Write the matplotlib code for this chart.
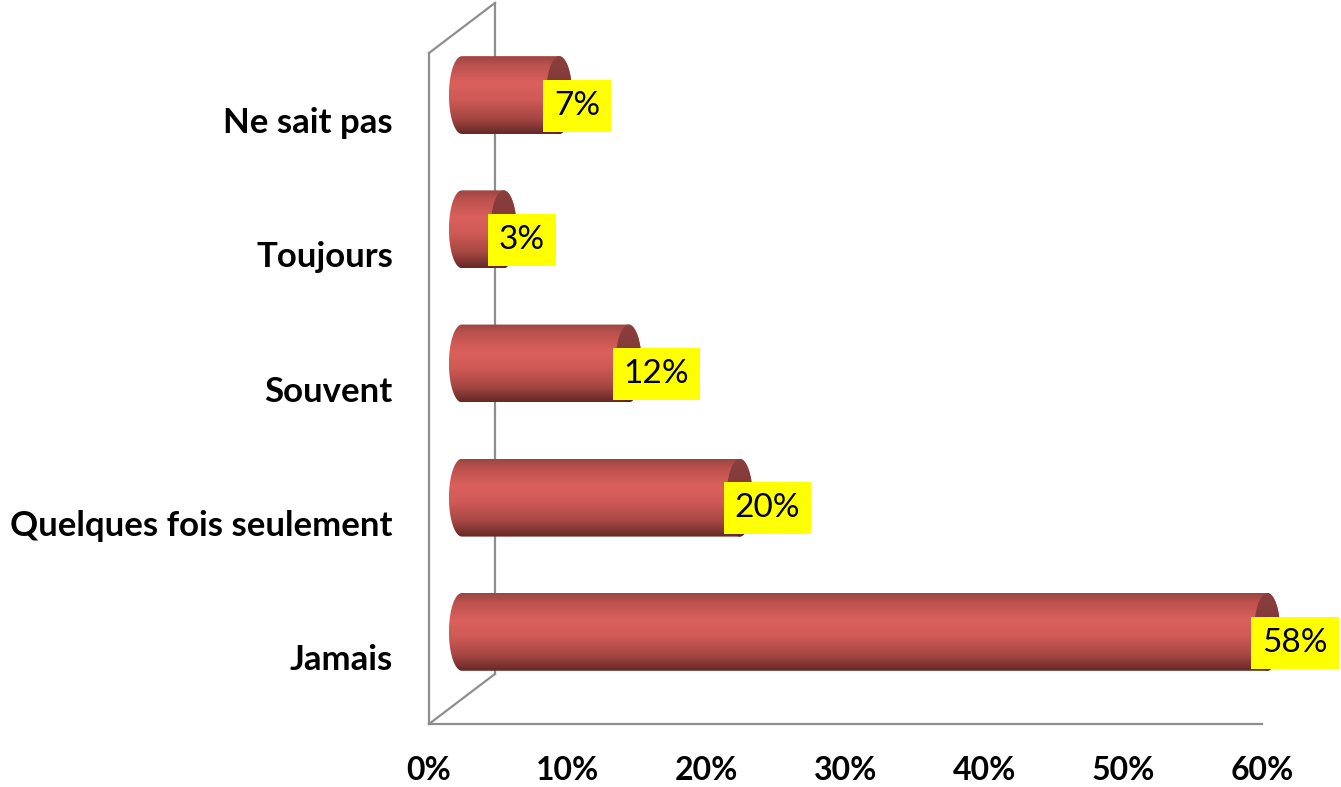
import numpy as np
import matplotlib.pyplot as plt
from matplotlib.path import Path
from matplotlib.patches import PathPatch, Ellipse
from matplotlib.colors import LinearSegmentedColormap

# data
categories = ['Jamais', 'Quelques fois seulement', 'Souvent', 'Toujours', 'Ne sait pas']
values = [58, 20, 12, 3, 7]
value_labels = ['58%', '20%', '12%', '3%', '7%']
xticks = [0, 10, 20, 30, 40, 50, 60]
xtick_labels = ['0%', '10%', '20%', '30%', '40%', '50%', '60%']

plt.rcParams['font.family'] = ['Lato', 'DejaVu Sans']

W, H = 1341, 787
fig = plt.figure(figsize=(W / 100, H / 100), dpi=100)
ax = fig.add_axes([429 / W, 1 - 724 / H, (1262 - 429) / W, (724 - 53) / H])

# 3D box depth (data units) and cylinder shape
dx, dy = 4.75, 0.373
bh = 0.58
rx = 0.94
grey = '#8e8e8e'

body_cmap = LinearSegmentedColormap.from_list('body', [
    (0.0, '#9a4643'), (0.12, '#bd524e'), (0.35, '#db605c'),
    (0.55, '#d05a56'), (0.8, '#a64743'), (1.0, '#642826')])
cap_cmap = LinearSegmentedColormap.from_list('cap', [
    (0.0, '#8c403e'), (0.5, '#7c3634'), (1.0, '#5c2423')])
grad = np.linspace(0, 1, 256).reshape(-1, 1)

# wall / floor lines
ax.plot([0, 60], [-0.5, -0.5], color=grey, lw=1.6, clip_on=False, zorder=0.5)
ax.plot([0, 0], [-0.5, 4.5], color=grey, lw=1.6, clip_on=False, zorder=0.5)
ax.plot([0, dx], [4.5, 4.5 + dy], color=grey, lw=1.6, clip_on=False, zorder=0.5)
ax.plot([0, dx], [-0.5, -0.5 + dy], color=grey, lw=1.6, clip_on=False, zorder=0.5)
ax.plot([dx, dx], [-0.5 + dy, 4.5 + dy], color=grey, lw=1.6, clip_on=False, zorder=0.5)

for i, v in enumerate(values):
    yc = i + dy / 2
    x0 = dx / 2
    x1 = v + dx / 2
    t = np.linspace(-np.pi / 2, np.pi / 2, 60)
    right = np.column_stack([x1 + rx * np.cos(t), yc + bh / 2 * np.sin(t)])
    a = np.linspace(np.pi / 2, 3 * np.pi / 2, 60)
    left = np.column_stack([x0 + rx * np.cos(a), yc + bh / 2 * np.sin(a)])
    verts = np.vstack([right, left, right[:1]])
    outline = PathPatch(Path(verts), transform=ax.transData)
    im = ax.imshow(grad, cmap=body_cmap, aspect='auto', origin='upper',
                   extent=(x0 - rx, x1 + rx, yc - bh / 2, yc + bh / 2), zorder=1)
    im.set_clip_path(outline)
    im.set_clip_box(fig.bbox)

    # end cap
    cap = Ellipse((x1, yc), 2 * rx, bh, transform=ax.transData)
    imc = ax.imshow(grad, cmap=cap_cmap, aspect='auto', origin='upper',
                    extent=(x1 - rx, x1 + rx, yc - bh / 2, yc + bh / 2), zorder=1.1)
    imc.set_clip_path(cap)
    imc.set_clip_box(fig.bbox)

    ax.text(x1 - 0.36, yc - 0.08, value_labels[i], ha='left', va='center',
            fontsize=24, color='black', zorder=3, clip_on=False,
            bbox=dict(boxstyle='square,pad=0.33', fc='#ffff00', ec='none'))

ax.set_xlim(0, 60)
ax.set_ylim(-0.5, 4.5)
for s in ax.spines.values():
    s.set_visible(False)
ax.set_xticks(xticks, xtick_labels)
ax.set_yticks(range(len(categories)), categories)
ax.tick_params(axis='x', length=0, pad=23, labelsize=23)
ax.tick_params(axis='y', length=0, pad=26, labelsize=25)
for lab in ax.get_xticklabels() + ax.get_yticklabels():
    lab.set_fontweight('bold')

fig.savefig('out.png', dpi=100)
